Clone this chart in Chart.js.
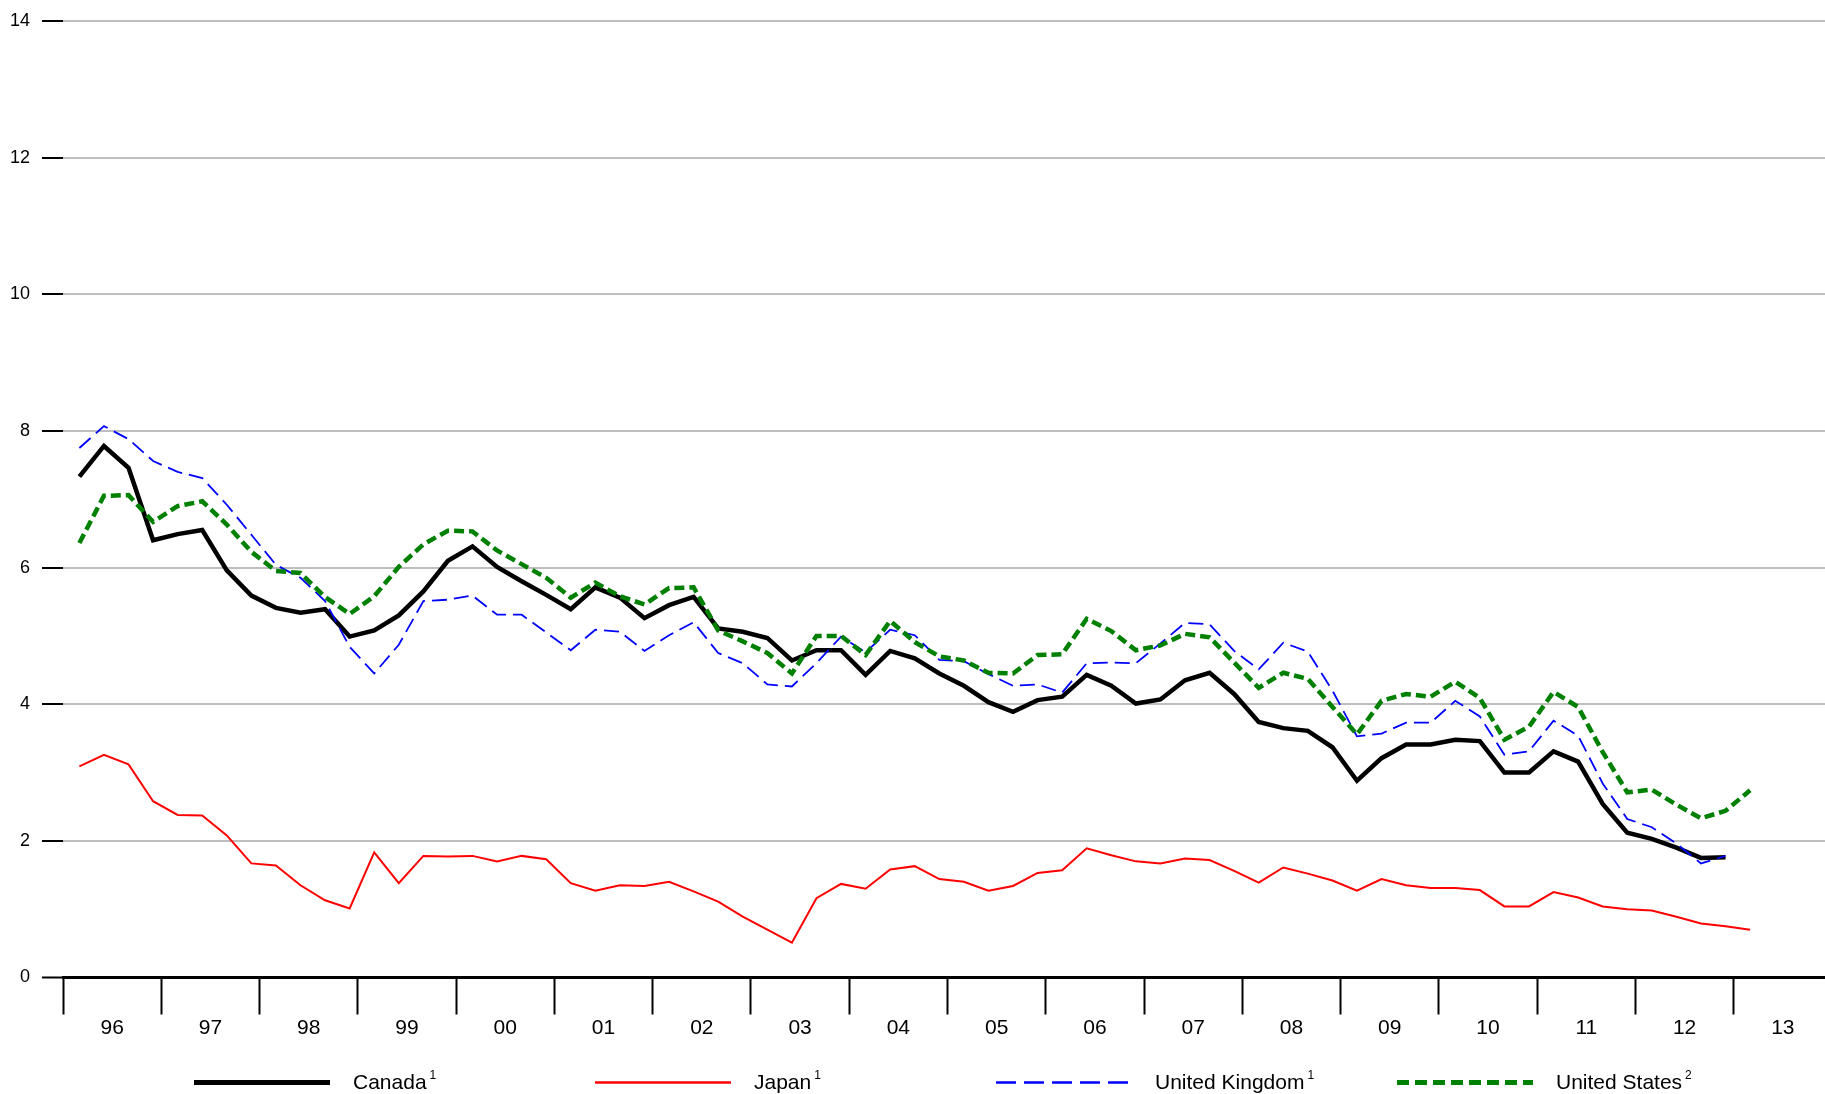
<!DOCTYPE html>
<html>
<head>
<meta charset="utf-8">
<script src="https://cdn.jsdelivr.net/npm/chart.js@4.4.0/dist/chart.umd.min.js"></script>
<style>
html, body { margin: 0; padding: 0; background: #fff; overflow: hidden; }
canvas { display: block; }
</style>
</head>
<body>
<canvas id="rates" width="1833" height="1094"></canvas>
<script>
// Quarterly long-term rates, 1996Q1 - 2013Q1
const yearLabels = ['96', '97', '98', '99', '00', '01', '02', '03', '04', '05', '06', '07', '08', '09', '10', '11', '12', '13'];
const seriesNames = ['Canada', 'Japan', 'United Kingdom', 'United States'];
const footnotes = ['1', '1', '1', '2'];

const canada = [
    7.33, 7.78, 7.46, 6.40, 6.49, 6.55, 5.96, 5.59, 5.41, 5.34,
    5.39, 4.99, 5.08, 5.30, 5.65, 6.10, 6.31, 6.01, 5.80, 5.60,
    5.39, 5.71, 5.56, 5.26, 5.45, 5.57, 5.11, 5.06, 4.97, 4.64,
    4.79, 4.79, 4.43, 4.78, 4.67, 4.45, 4.27, 4.03, 3.89, 4.06,
    4.11, 4.43, 4.27, 4.01, 4.07, 4.35, 4.46, 4.15, 3.74, 3.65,
    3.61, 3.37, 2.88, 3.21, 3.41, 3.41, 3.48, 3.46, 3.00, 3.00,
    3.31, 3.16, 2.54, 2.12, 2.03, 1.90, 1.75, 1.76, null
];
const japan = [
    3.09, 3.26, 3.12, 2.58, 2.38, 2.37, 2.08, 1.67, 1.64, 1.35,
    1.13, 1.01, 1.83, 1.38, 1.78, 1.77, 1.78, 1.70, 1.78, 1.73,
    1.38, 1.27, 1.35, 1.34, 1.40, 1.26, 1.11, 0.89, 0.70, 0.51,
    1.16, 1.37, 1.30, 1.58, 1.63, 1.44, 1.40, 1.27, 1.34, 1.53,
    1.57, 1.89, 1.79, 1.70, 1.67, 1.74, 1.72, 1.56, 1.39, 1.61,
    1.52, 1.42, 1.27, 1.44, 1.35, 1.31, 1.31, 1.28, 1.04, 1.04,
    1.25, 1.17, 1.04, 1.00, 0.98, 0.89, 0.79, 0.75, 0.70
];
const unitedKingdom = [
    7.75, 8.07, 7.88, 7.56, 7.40, 7.31, 6.92, 6.48, 6.04, 5.85,
    5.51, 4.84, 4.45, 4.87, 5.51, 5.53, 5.59, 5.31, 5.31, 5.05,
    4.79, 5.09, 5.06, 4.78, 5.01, 5.20, 4.75, 4.60, 4.29, 4.26,
    4.60, 4.99, 4.76, 5.09, 5.01, 4.65, 4.63, 4.44, 4.27, 4.29,
    4.17, 4.60, 4.61, 4.60, 4.89, 5.19, 5.17, 4.78, 4.51, 4.90,
    4.77, 4.20, 3.53, 3.57, 3.73, 3.73, 4.05, 3.82, 3.26, 3.31,
    3.76, 3.54, 2.84, 2.32, 2.20, 1.96, 1.67, 1.78, null
];
const unitedStates = [
    6.36, 7.05, 7.06, 6.67, 6.90, 6.97, 6.63, 6.23, 5.95, 5.92,
    5.57, 5.32, 5.58, 6.01, 6.34, 6.54, 6.53, 6.25, 6.05, 5.85,
    5.56, 5.78, 5.58, 5.46, 5.70, 5.71, 5.08, 4.92, 4.75, 4.45,
    5.00, 5.00, 4.72, 5.22, 4.91, 4.70, 4.64, 4.46, 4.45, 4.72,
    4.73, 5.25, 5.07, 4.79, 4.86, 5.03, 4.98, 4.61, 4.24, 4.46,
    4.37, 3.96, 3.56, 4.05, 4.15, 4.11, 4.33, 4.09, 3.48, 3.67,
    4.18, 3.96, 3.30, 2.71, 2.75, 2.53, 2.33, 2.44, 2.74
];

const FONT = "'Liberation Sans', Arial, Helvetica, sans-serif";

// x runs in months from Jan 1996; each quarter is plotted at the end of its middle month
function toPoints(values) {
    return values.map((v, i) => ({ x: i * 3 + 2, y: v }));
}

// legend row under the axis, drawn straight onto the canvas
const bottomLegend = {
    id: 'bottomLegend',
    afterDraw(chart) {
        const ctx = chart.ctx;
        const y = 1082.5;
        chart.data.datasets.forEach((ds, i) => {
            const x0 = 194 + i * 401;
            const x1 = x0 + 136;
            ctx.save();
            ctx.strokeStyle = ds.borderColor;
            ctx.lineWidth = ds.borderWidth + 0.5;
            ctx.setLineDash(ds.legendDash || []);
            ctx.beginPath();
            ctx.moveTo(x0, y);
            ctx.lineTo(x1, y);
            ctx.stroke();
            ctx.setLineDash([]);

            ctx.fillStyle = '#000';
            ctx.textBaseline = 'alphabetic';
            ctx.font = '21px ' + FONT;
            const tx = x1 + 23;
            ctx.fillText(seriesNames[i], tx, 1089);
            const w = ctx.measureText(seriesNames[i]).width;
            ctx.font = '12px ' + FONT;
            ctx.fillText(footnotes[i], tx + w + 3, 1079);
            ctx.restore();
        });
    }
};

new Chart(document.getElementById('rates'), {
    type: 'line',
    data: {
        datasets: [
            {
                label: seriesNames[0],
                data: toPoints(canada),
                borderColor: '#000000',
                borderWidth: 4.5,
                order: 4
            },
            {
                label: seriesNames[1],
                data: toPoints(japan),
                borderColor: '#ff0000',
                borderWidth: 2,
                order: 3
            },
            {
                label: seriesNames[2],
                data: toPoints(unitedKingdom),
                borderColor: '#0000ff',
                borderWidth: 1.8,
                borderDash: [15, 7],
                legendDash: [20, 8],
                order: 2
            },
            {
                label: seriesNames[3],
                data: toPoints(unitedStates),
                borderColor: '#008000',
                borderWidth: 4.5,
                borderDash: [10, 5],
                legendDash: [12, 6],
                order: 1
            }
        ]
    },
    options: {
        responsive: false,
        devicePixelRatio: 1,
        animation: false,
        spanGaps: false,
        elements: {
            point: { radius: 0 },
            line: { tension: 0, borderCapStyle: 'butt', borderJoinStyle: 'miter' }
        },
        layout: { padding: { top: 0, right: 0, bottom: 0, left: 0 } },
        plugins: {
            legend: { display: false },
            tooltip: { enabled: false }
        },
        scales: {
            x: {
                type: 'linear',
                min: 0,
                max: yearLabels.length * 12,
                afterBuildTicks: (scale) => {
                    const ticks = [];
                    for (let m = 0; m <= yearLabels.length * 12; m += 6) ticks.push({ value: m });
                    scale.ticks = ticks;
                },
                afterFit: (scale) => { scale.height = 116.5; },
                border: { display: true, color: '#000', width: 3 },
                grid: {
                    drawOnChartArea: false,
                    tickLength: 37,
                    tickWidth: 2,
                    tickColor: (c) => (c.tick && c.tick.value % 12 === 0 ? '#000' : 'rgba(0,0,0,0)')
                },
                ticks: {
                    autoSkip: false,
                    maxRotation: 0,
                    padding: 1,
                    color: '#000',
                    font: { family: FONT, size: 21 },
                    callback: (v) => (v % 12 === 6 ? yearLabels[(v - 6) / 12] : '')
                }
            },
            y: {
                min: 0,
                max: 14,
                afterFit: (scale) => { scale.width = 63; },
                border: { display: false },
                grid: {
                    color: (c) => (c.tick && c.tick.value === 0 ? '#000' : '#bebebe'),
                    lineWidth: (c) => (c.tick && c.tick.value === 0 ? 3 : 2),
                    tickLength: 21,
                    tickWidth: 2,
                    tickColor: '#000'
                },
                ticks: {
                    stepSize: 2,
                    padding: 12,
                    color: '#000',
                    font: { family: FONT, size: 18, lineHeight: 1.0 }
                }
            }
        }
    },
    plugins: [bottomLegend]
});
</script>
</body>
</html>
